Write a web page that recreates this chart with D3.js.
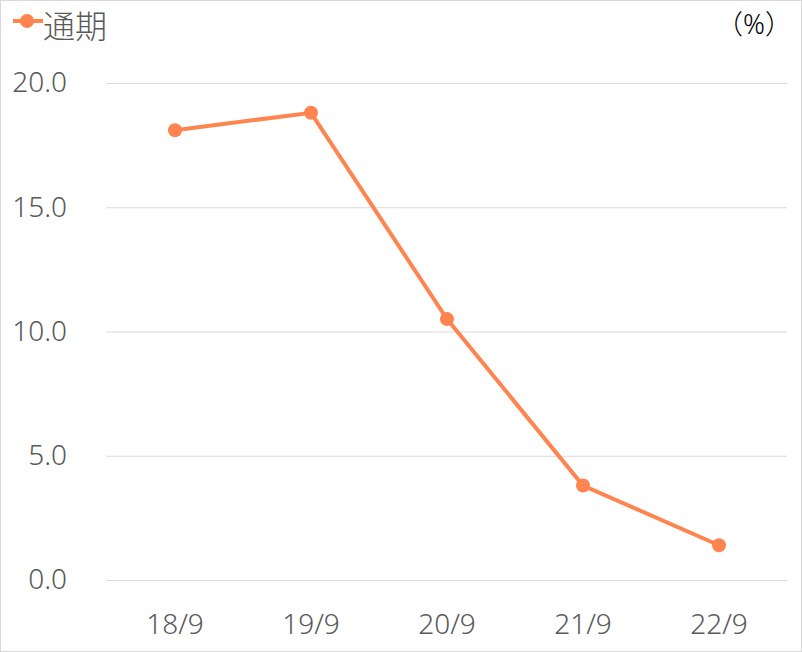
<!DOCTYPE html>
<html>
<head>
<meta charset="utf-8">
<script src="https://cdn.jsdelivr.net/npm/d3@7"></script>
<style>
  body { margin: 0; background: #fff; }
  text { font-family: "Noto Sans", "Noto Sans CJK JP", sans-serif; fill: #595959; }
</style>
</head>
<body>
<svg id="chart"></svg>
<script>
    var categories = ['18/9', '19/9', '20/9', '21/9', '22/9'];
    var values = [18.1, 18.8, 10.5, 3.8, 1.4];
    var yTicks = [0, 5, 10, 15, 20];
    var seriesName = '通期';
    var unitLabel = '（%）';

    var width = 802;
    var height = 652;
    var color = '#ff8550';
    var margin = { left: 107, right: 15, top: 83, bottom: 72 };

    var chart = d3.select('#chart')
        .attr('width', width)
        .attr('height', height);

    // outer border
    chart.append('rect')
        .attr('x', 0.5).attr('y', 0.5)
        .attr('width', width - 1).attr('height', height - 1)
        .attr('fill', '#fff')
        .attr('stroke', '#d9d9d9');

    var x = d3.scaleBand().domain(categories)
        .range([margin.left, width - margin.right]);
    var y = d3.scaleLinear().domain([0, 20])
        .range([height - margin.bottom, margin.top]);

    // gridlines
    chart.append('g').selectAll('line')
        .data(yTicks).enter().append('line')
        .attr('x1', margin.left - 1).attr('x2', width - margin.right)
        .attr('y1', function(d){ return y(d) + 0.5; })
        .attr('y2', function(d){ return y(d) + 0.5; })
        .attr('stroke', '#d9d9d9')
        .attr('stroke-width', 1);

    // y axis labels
    var yAxis = d3.axisLeft(y).tickValues(yTicks)
        .tickFormat(d3.format('.1f')).tickSize(0).tickPadding(0);
    var axisY = chart.append('g')
        .attr('transform', 'translate(67,0)')
        .call(yAxis);
    axisY.select('.domain').remove();
    axisY.selectAll('text')
        .attr('font-size', 28)
        .attr('font-weight', 300)
        .attr('fill', '#595959')
        .attr('font-family', '"Noto Sans", sans-serif');

    // x axis labels
    var xAxis = d3.axisBottom(x).tickSize(0).tickPadding(0);
    var axisX = chart.append('g')
        .attr('transform', 'translate(0,634)')
        .call(xAxis);
    axisX.select('.domain').remove();
    axisX.selectAll('text')
        .attr('y', 0)
        .attr('dy', 0)
        .attr('font-size', 28)
        .attr('font-weight', 300)
        .attr('fill', '#595959')
        .attr('font-family', '"Noto Sans", sans-serif');

    // line
    var line = d3.line()
        .x(function(d, i){ return x(categories[i]) + x.bandwidth() / 2; })
        .y(function(d){ return y(d); });

    chart.append('path')
        .datum(values)
        .attr('fill', 'none')
        .attr('stroke', color)
        .attr('stroke-width', 4)
        .attr('d', line);

    chart.append('g').selectAll('circle')
        .data(values).enter().append('circle')
        .attr('cx', function(d, i){ return x(categories[i]) + x.bandwidth() / 2; })
        .attr('cy', function(d){ return y(d); })
        .attr('r', 7)
        .attr('fill', color);

    // legend
    var legend = chart.append('g').attr('transform', 'translate(13,21)');
    legend.append('line')
        .attr('x1', 0).attr('x2', 30)
        .attr('stroke', color).attr('stroke-width', 4);
    legend.append('circle')
        .attr('cx', 14).attr('r', 7).attr('fill', color);
    legend.append('text')
        .attr('x', 30).attr('y', 17)
        .attr('font-size', 32)
        .attr('font-weight', 300)
        .attr('font-family', '"Noto Sans CJK JP", sans-serif')
        .text(seriesName);

    // unit label
    chart.append('text')
        .attr('x', 716).attr('y', 34)
        .attr('font-size', 27)
        .attr('font-weight', 300)
        .attr('font-family', '"Noto Sans CJK JP", sans-serif')
        .style('fill', '#000')
        .text(unitLabel);
</script>
</body>
</html>
